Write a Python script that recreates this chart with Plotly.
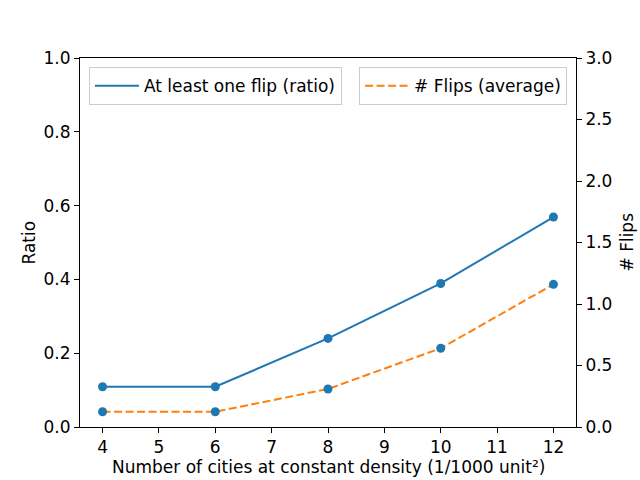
import plotly.graph_objects as go

cities = [4, 6, 8, 10, 12]
ratio_one_flip = [0.109, 0.109, 0.240, 0.389, 0.569]
flips_avg = [0.124, 0.124, 0.309, 0.640, 1.160]
x_ticks = [4, 5, 6, 7, 8, 9, 10, 11, 12]
ratio_ticks = [0.0, 0.2, 0.4, 0.6, 0.8, 1.0]
flip_ticks = [0.0, 0.5, 1.0, 1.5, 2.0, 2.5, 3.0]

BLUE = "#1f77b4"
ORANGE = "#ff7f0e"
FONT = "DejaVu Sans"
FS = 17

fig = go.Figure()
fig.add_trace(go.Scatter(
    x=cities, y=ratio_one_flip, mode="lines",
    line=dict(color=BLUE, width=2),
    name="At least one flip (ratio)", legend="legend",
))
fig.add_trace(go.Scatter(
    x=cities, y=ratio_one_flip, mode="markers",
    marker=dict(color=BLUE, size=9), showlegend=False,
))
fig.add_trace(go.Scatter(
    x=cities, y=flips_avg, mode="lines", yaxis="y2",
    line=dict(color=ORANGE, width=2, dash="8px,3.5px"),
    name="# Flips (average)", legend="legend2",
))
fig.add_trace(go.Scatter(
    x=cities, y=flips_avg, mode="markers", yaxis="y2",
    marker=dict(color=BLUE, size=9), showlegend=False,
))

axis_common = dict(
    showline=True, linecolor="black", linewidth=1, ticks="outside",
    ticklen=5, tickwidth=1, tickcolor="black", showgrid=False, zeroline=False,
    tickfont=dict(family=FONT, size=FS, color="black"), automargin=False,
)

fig.update_layout(
    width=640, height=480,
    margin=dict(l=80, r=64, t=58, b=53),
    paper_bgcolor="white", plot_bgcolor="white",
    font=dict(family=FONT, size=FS, color="black"),
    xaxis=dict(
        range=[3.6, 12.4], tickvals=x_ticks, mirror=True,
        **axis_common,
    ),
    yaxis=dict(
        range=[0, 1], tickvals=ratio_ticks, tickformat=".1f",
        **axis_common,
    ),
    yaxis2=dict(
        range=[0, 3], tickvals=flip_ticks, tickformat=".1f",
        overlaying="y", side="right",
        **axis_common,
    ),
    legend=dict(
        x=0.018, y=0.975, xanchor="left", yanchor="top",
        bordercolor="#cccccc", borderwidth=1, bgcolor="rgba(255,255,255,0.8)",
        font=dict(family=FONT, size=FS), itemwidth=44,
    ),
    legend2=dict(
        x=0.982, y=0.975, xanchor="right", yanchor="top",
        bordercolor="#cccccc", borderwidth=1, bgcolor="rgba(255,255,255,0.8)",
        font=dict(family=FONT, size=FS), itemwidth=44,
    ),
    annotations=[
        dict(text="Number of cities at constant density (1/1000 unit²)",
             xref="paper", yref="paper", x=0.5, y=0, yshift=-28,
             xanchor="center", yanchor="top", showarrow=False,
             font=dict(family=FONT, size=FS)),
        dict(text="Ratio", xref="paper", yref="paper", x=0, xshift=-52, y=0.5,
             xanchor="center", yanchor="middle", textangle=-90, showarrow=False,
             font=dict(family=FONT, size=FS)),
        dict(text="# Flips", xref="paper", yref="paper", x=1, xshift=50, y=0.5,
             xanchor="center", yanchor="middle", textangle=-90, showarrow=False,
             font=dict(family=FONT, size=FS)),
    ],
)

fig.write_html(
    "out.html",
    config={"displayModeBar": False},
    post_script="document.body.style.margin='0';document.body.style.overflow='hidden';",
)
